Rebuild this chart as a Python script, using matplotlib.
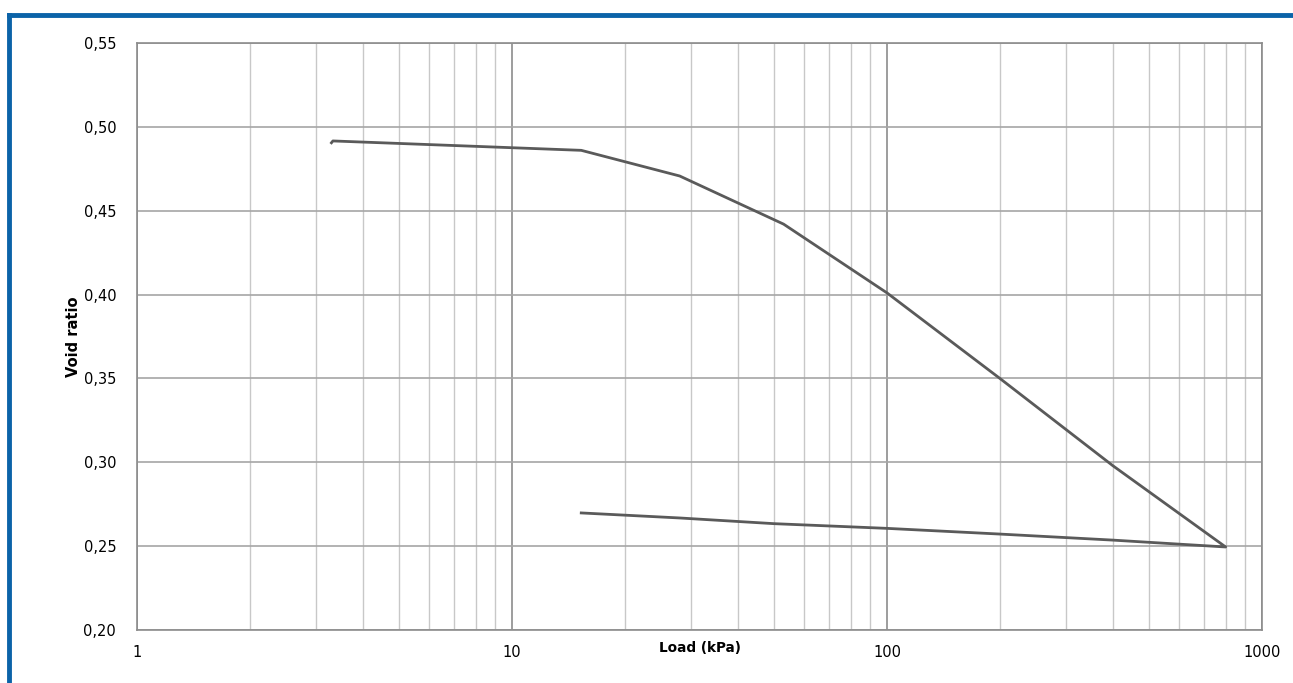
import numpy as np
import matplotlib
matplotlib.use("Agg")
import matplotlib.pyplot as plt
from matplotlib.ticker import FixedLocator, LogLocator, NullFormatter
from matplotlib.lines import Line2D

# oedometer test: loading then unloading branch
load = [3.3, 3.33, 15.3, 28, 53, 100, 200, 400, 800,
        400, 200, 100, 50, 28, 15.3]
void_ratio = [0.4905, 0.4916, 0.486, 0.4707, 0.442, 0.401, 0.350, 0.298, 0.2495,
              0.2536, 0.2572, 0.2606, 0.2634, 0.2668, 0.2698]

y_ticks = [0.20, 0.25, 0.30, 0.35, 0.40, 0.45, 0.50, 0.55]
y_labels = ["0,20", "0,25", "0,30", "0,35", "0,40", "0,45", "0,50", "0,55"]
x_ticks = [1, 10, 100, 1000]
x_labels = ["1", "10", "100", "1000"]

plt.rcParams['font.family'] = ['DejaVu Sans']

fig = plt.figure(figsize=(12.93, 6.83), dpi=100)
ax = fig.add_axes([137/1293, 1 - 630/683, (1262-137)/1293, (630-43)/683])

ax.plot(load, void_ratio, color="#5a5a5a", linewidth=2.0, zorder=3)

ax.set_xscale("log")
ax.set_xlim(1, 1000)
ax.set_ylim(0.20, 0.55)

ax.xaxis.set_major_locator(FixedLocator(x_ticks))
ax.xaxis.set_minor_locator(LogLocator(base=10, subs=np.arange(2, 10)))
ax.xaxis.set_minor_formatter(NullFormatter())
ax.set_xticks(x_ticks)
ax.set_xticklabels(x_labels)
ax.set_yticks(y_ticks)
ax.set_yticklabels(y_labels)

ax.grid(True, which="major", axis="x", color="#8c8c8c", linewidth=1.2)
ax.grid(True, which="minor", axis="x", color="#c8c8c8", linewidth=1.0)
ax.grid(True, which="major", axis="y", color="#a6a6a6", linewidth=1.2)
ax.set_axisbelow(True)

for s in ax.spines.values():
    s.set_color("#8c8c8c")
    s.set_linewidth(1.2)

ax.tick_params(which="both", length=0)
ax.tick_params(axis="x", pad=11, labelsize=10.5)
ax.tick_params(axis="y", pad=15, labelsize=10.5)

ax.text(0.5, -0.031, "Load (kPa)", transform=ax.transAxes, ha="center", va="center",
        fontsize=9.8, fontweight="bold")
ax.set_ylabel("Void ratio", fontsize=10.5, fontweight="bold", labelpad=2)

# blue frame at top and left
fig.add_artist(Line2D([9/1293, 1], [1 - 15/683, 1 - 15/683], color="#0b63a8",
                      linewidth=3.5, transform=fig.transFigure))
fig.add_artist(Line2D([9/1293, 9/1293], [0, 1 - 15/683], color="#0b63a8",
                      linewidth=3.5, transform=fig.transFigure))

fig.savefig("out.png", dpi=100)
